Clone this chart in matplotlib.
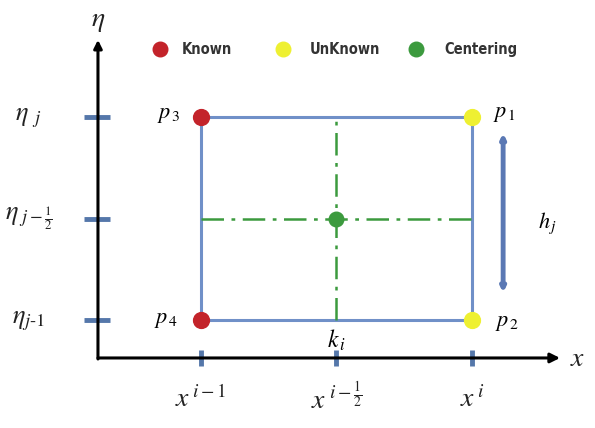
import matplotlib
matplotlib.use("Agg")
import matplotlib.pyplot as plt

plt.rcParams["mathtext.fontset"] = "stix"

# Grid coordinates of the cell (logical units)
x_ticks = [0, 1, 2]
x_tick_labels = [r"$x^{\,i-1}$", r"$x^{\;i-\frac{1}{2}}$", r"$x^{\,i}$"]
y_ticks = [2, 1, 0]
y_tick_labels = [r"$\eta_{\;\;j}$", r"$\eta_{\;j-\frac{1}{2}}$", r"$\eta_{j\text{-}1}$"]

known_x = [0, 0]
known_y = [2, 0]
known_labels = [r"$p_{\,3}$", r"$p_{\,4}$"]
unknown_x = [2, 2]
unknown_y = [2, 0]
unknown_labels = [r"$p_{\,1}$", r"$p_{\,2}$"]
center_x = [1]
center_y = [1]

legend_names = ["Known", "UnKnown", "Centering"]

RED = "#c3232a"
YELLOW = "#eef032"
GREEN = "#3c9a3e"
BLUE = "#7090c8"
TICKBLUE = "#5577aa"

fig = plt.figure(figsize=(5.95, 4.28), dpi=100)
ax = fig.add_axes([0, 0, 1, 1])
ax.set_xlim(-1.483, 2.908)
ax.set_ylim(-1.064, 3.153)
ax.axis("off")

x0, y0 = -0.76, -0.374

# coordinate axes with arrows
ax.annotate("", xy=(2.65, y0), xytext=(x0, y0),
            arrowprops=dict(arrowstyle="-|>", lw=2.2, color="black",
                            mutation_scale=14, shrinkA=0, shrinkB=0))
ax.annotate("", xy=(x0, 2.76), xytext=(x0, y0 - 0.01),
            arrowprops=dict(arrowstyle="-|>", lw=2.2, color="black",
                            mutation_scale=12, shrinkA=0, shrinkB=0))
ax.text(2.78, y0, r"$x$", fontsize=20, ha="center", va="center", color="#222222")
ax.text(x0, 2.96, r"$\eta$", fontsize=20, ha="center", va="center", color="#222222")

# tick marks and labels
for xt, lab in zip(x_ticks, x_tick_labels):
    ax.plot([xt, xt], [y0 - 0.08, y0 + 0.08], color=TICKBLUE, lw=3.5, solid_capstyle="butt")
    ax.text(xt, y0 - 0.4, lab, fontsize=20, ha="center", va="center", color="#222222")
for yt, lab in zip(y_ticks, y_tick_labels):
    ax.plot([x0 - 0.1, x0 + 0.09], [yt, yt], color=TICKBLUE, lw=3.5, solid_capstyle="butt")
    ax.text(-1.27, yt, lab, fontsize=19, ha="center", va="center", color="#222222")

# cell boundary
ax.plot([0, 2, 2, 0, 0], [2, 2, 0, 0, 2], color=BLUE, lw=2.2, zorder=2)

# centre lines
ax.plot([1, 1], [0, 2], color=GREEN, lw=1.8, ls=(0, (9, 3, 1.5, 3)), zorder=2)
ax.plot([0, 2], [1, 1], color=GREEN, lw=1.8, ls=(0, (9, 3, 1.5, 3)), zorder=2)

# nodes
ax.scatter(known_x, known_y, s=130, color=RED, zorder=4)
ax.scatter(unknown_x, unknown_y, s=130, color=YELLOW, zorder=4)
ax.scatter(center_x, center_y, s=110, color=GREEN, zorder=4)

ax.text(known_x[0] - 0.24, known_y[0] + 0.02, known_labels[0], fontsize=16, ha="center", va="center")
ax.text(known_x[1] - 0.26, known_y[1], known_labels[1], fontsize=16, ha="center", va="center")
ax.text(unknown_x[0] + 0.24, unknown_y[0] + 0.03, unknown_labels[0], fontsize=16, ha="center", va="center")
ax.text(unknown_x[1] + 0.26, unknown_y[1] - 0.03, unknown_labels[1], fontsize=16, ha="center", va="center")
ax.text(1.0, -0.2, r"$k_{\,i}$", fontsize=17, ha="center", va="center")

# cell height arrow
ax.annotate("", xy=(2.23, 0.27), xytext=(2.23, 1.84),
            arrowprops=dict(arrowstyle="<|-|>", lw=3.5, color="#5a78b4",
                            mutation_scale=6, shrinkA=0, shrinkB=0))
ax.text(2.56, 0.95, r"$h_{\,j}$", fontsize=16, ha="center", va="center")

# legend row
leg_y = 2.67
leg_dots = [(-0.3, RED), (0.608, YELLOW), (1.587, GREEN)]
leg_text_x = [-0.14, 0.8, 1.8]
for (dx, col), tx, name in zip(leg_dots, leg_text_x, legend_names):
    ax.scatter([dx], [leg_y], s=110, color=col, zorder=4)
    ax.text(tx, leg_y, name, fontsize=10.5, fontweight="bold", fontstretch="condensed",
            ha="left", va="center", color="#333333")

fig.savefig("out.png", dpi=100)
